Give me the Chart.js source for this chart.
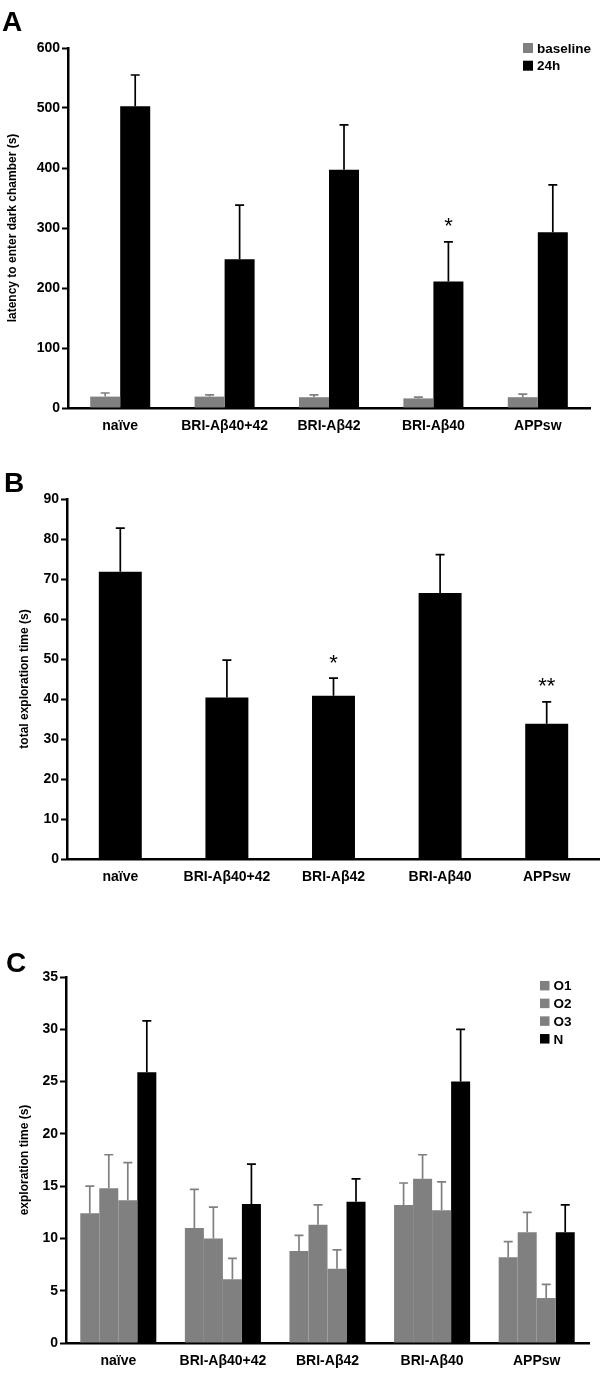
<!DOCTYPE html>
<html>
<head>
<meta charset="utf-8">
<script src="https://cdn.jsdelivr.net/npm/chart.js@4.4.0/dist/chart.umd.min.js"></script>
<style>
  body { margin: 0; background: #fff; }
  #wrap { position: relative; width: 600px; height: 1378px; }
  canvas { position: absolute; left: 0; }
</style>
</head>
<body>
<div id="wrap">
  <canvas id="chartA" width="600" height="450" style="top:0px"></canvas>
  <canvas id="chartB" width="600" height="450" style="top:450px"></canvas>
  <canvas id="chartC" width="600" height="478" style="top:900px"></canvas>
</div>
<script>
const categories = ['naïve', 'BRI-Aβ40+42', 'BRI-Aβ42', 'BRI-Aβ40', 'APPsw'];

// panel A - latency to enter dark chamber
const baselineMean = [19, 19, 18, 16, 18];
const baselineSem  = [6, 3, 4, 2, 5];
const h24Mean      = [503, 248, 397, 211, 293];
const h24Sem       = [52, 90, 75, 66, 79];
const h24Marks     = ['', '', '', '*', ''];

// panel B - total exploration time
const totalMean  = [71.8, 40.4, 40.8, 66.5, 33.8];
const totalSem   = [10.9, 9.3, 4.4, 9.6, 5.5];
const totalMarks = ['', '', '*', '', '**'];

// panel C - exploration time per object
const o1Mean = [12.4, 11.0, 8.8, 13.2, 8.2];
const o1Sem  = [2.6, 3.7, 1.5, 2.1, 1.5];
const o2Mean = [14.8, 10.0, 11.3, 15.7, 10.6];
const o2Sem  = [3.2, 3.0, 1.9, 2.3, 1.9];
const o3Mean = [13.65, 6.1, 7.1, 12.7, 4.3];
const o3Sem  = [3.6, 2.0, 1.8, 2.7, 1.3];
const nMean  = [25.9, 13.3, 13.5, 25.0, 10.6];
const nSem   = [4.9, 3.8, 2.2, 5.0, 2.6];

const GRAY = '#808080';
const BLACK = '#000000';
const FAMILY = '"Liberation Sans", Arial, sans-serif';

// draws upper error bars (and significance stars) from dataset.errors / dataset.marks
const errorBars = {
  id: 'errorBars',
  afterDatasetsDraw(chart) {
    const ctx = chart.ctx;
    const yScale = chart.scales.y;
    chart.data.datasets.forEach((ds, i) => {
      if (!ds.errors) return;
      const meta = chart.getDatasetMeta(i);
      ctx.save();
      ctx.strokeStyle = ds.backgroundColor;
      ctx.lineWidth = 1.7;
      meta.data.forEach((bar, j) => {
        const top = yScale.getPixelForValue(ds.data[j] + ds.errors[j]);
        ctx.beginPath();
        ctx.moveTo(bar.x, bar.y);
        ctx.lineTo(bar.x, top);
        ctx.moveTo(bar.x - 4.5, top);
        ctx.lineTo(bar.x + 4.5, top);
        ctx.stroke();
        if (ds.marks && ds.marks[j]) {
          ctx.fillStyle = BLACK;
          ctx.font = '22px ' + FAMILY;
          ctx.textAlign = 'center';
          ctx.textBaseline = 'alphabetic';
          ctx.fillText(ds.marks[j], bar.x, top - 21 + 12.5);
        }
      });
      ctx.restore();
    });
  }
};

const boxLegend = {
  id: 'boxLegend',
  afterDraw(chart, args, opts) {
    if (!opts || !opts.show) return;
    const ctx = chart.ctx;
    ctx.save();
    ctx.font = 'bold 13.5px ' + FAMILY;
    ctx.textAlign = 'left';
    ctx.textBaseline = 'middle';
    chart.data.datasets.forEach((ds, i) => {
      const cy = opts.y + i * opts.gap;
      ctx.fillStyle = ds.backgroundColor;
      ctx.fillRect(opts.x, cy - opts.size / 2, opts.size, opts.size);
      ctx.fillStyle = BLACK;
      ctx.fillText(ds.label, opts.x + opts.size + 4, cy + 1);
    });
    ctx.restore();
  }
};

const panelLabel = {
  id: 'panelLabel',
  afterDraw(chart, args, opts) {
    const ctx = chart.ctx;
    ctx.save();
    ctx.fillStyle = BLACK;
    ctx.font = 'bold 28px ' + FAMILY;
    ctx.textAlign = 'left';
    ctx.textBaseline = 'alphabetic';
    ctx.fillText(opts.text, opts.x, opts.y);
    ctx.restore();
  }
};

function makeChart(id, datasets, o) {
  return new Chart(document.getElementById(id), {
    type: 'bar',
    data: { labels: categories, datasets: datasets },
    options: {
      responsive: false,
      animation: false,
      layout: { padding: { top: o.top, right: o.right, left: 0, bottom: 0 } },
      datasets: { bar: { categoryPercentage: o.catPct, barPercentage: 1.0 } },
      scales: {
        x: {
          ticks: { color: BLACK, font: { family: FAMILY, size: 14, weight: 'bold' }, padding: 10, autoSkip: false, maxRotation: 0 },
          grid: { display: false, drawTicks: false },
          border: { color: BLACK, width: 2.5 },
          afterFit(scale) { scale.height = o.xHeight; }
        },
        y: {
          min: 0,
          max: o.max,
          ticks: { stepSize: o.step, color: BLACK, font: { family: FAMILY, size: 14, weight: 'bold' }, padding: 2 },
          grid: { drawOnChartArea: false, tickLength: 6, tickColor: BLACK, tickWidth: 2 },
          border: { color: BLACK, width: 2.5 },
          title: {
            display: true,
            text: o.title,
            color: BLACK,
            font: { family: FAMILY, size: 12, weight: 'bold' },
            padding: { top: o.titlePad, bottom: 0 }
          },
          afterFit(scale) { scale.width = o.yWidth; }
        }
      },
      plugins: {
        legend: { display: false },
        tooltip: { enabled: false },
        boxLegend: o.legend || { show: false },
        panelLabel: o.letter
      }
    },
    plugins: [errorBars, boxLegend, panelLabel]
  });
}

makeChart('chartA', [
  { label: 'baseline', data: baselineMean, errors: baselineSem, backgroundColor: GRAY },
  { label: '24h', data: h24Mean, errors: h24Sem, marks: h24Marks, backgroundColor: BLACK }
], {
  top: 48, right: 10, xHeight: 42, yWidth: 68, catPct: 0.575,
  max: 600, step: 100, title: 'latency to enter dark chamber (s)', titlePad: 5,
  legend: { show: true, x: 523, y: 48, gap: 17.7, size: 10 },
  letter: { text: 'A', x: 2, y: 31 }
});

makeChart('chartB', [
  { label: 'total', data: totalMean, errors: totalSem, marks: totalMarks, backgroundColor: BLACK }
], {
  top: 49, right: 0, xHeight: 41, yWidth: 67, catPct: 0.403,
  max: 90, step: 10, title: 'total exploration time (s)', titlePad: 17,
  letter: { text: 'B', x: 4, y: 42 }
});

makeChart('chartC', [
  { label: 'O1', data: o1Mean, errors: o1Sem, backgroundColor: GRAY },
  { label: 'O2', data: o2Mean, errors: o2Sem, backgroundColor: GRAY },
  { label: 'O3', data: o3Mean, errors: o3Sem, backgroundColor: GRAY },
  { label: 'N', data: nMean, errors: nSem, backgroundColor: BLACK }
], {
  top: 77, right: 11, xHeight: 35, yWidth: 66, catPct: 0.727,
  max: 35, step: 5, title: 'exploration time (s)', titlePad: 17,
  legend: { show: true, x: 540, y: 85.7, gap: 17.7, size: 9.5 },
  letter: { text: 'C', x: 6, y: 72 }
});
</script>
</body>
</html>
